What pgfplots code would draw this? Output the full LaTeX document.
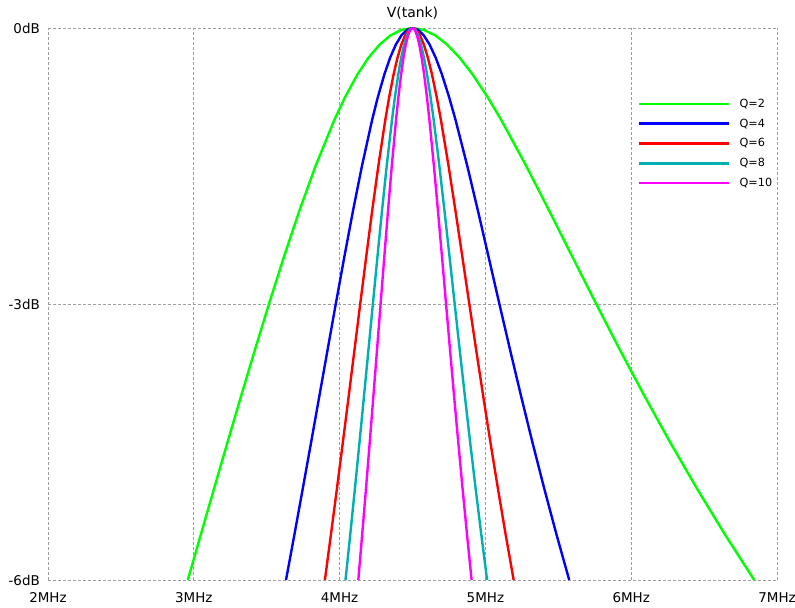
\documentclass[border=0pt]{standalone}
\usepackage{pgfplots}
\pgfplotsset{compat=1.18}
\usepackage{fontspec}
\setmainfont{DejaVu Sans}
\definecolor{qtwo}{RGB}{0,255,0}
\definecolor{qfour}{RGB}{0,0,255}
\definecolor{qsix}{RGB}{255,0,0}
\definecolor{qeight}{RGB}{0,176,176}
\definecolor{qten}{RGB}{255,0,255}
\begin{document}
\begin{tikzpicture}
\begin{axis}[
  scale only axis,
  width=729bp, height=552bp,
  xmin=2, xmax=7, ymin=-6, ymax=0,
  xtick={2,3,4,5,6,7},
  xticklabels={2MHz,3MHz,4MHz,5MHz,6MHz,7MHz},
  ytick={-6,-3,0},
  yticklabels={-6dB,-3dB,0dB},
  axis line style={draw=none},
  major tick length=0pt,
  grid=major,
  major grid style={color=black!38, dash pattern=on 3bp off 2bp, line width=0.8bp},
  tick label style={font=\fontsize{13.5}{16}\selectfont},
  /pgf/number format/assume math mode=true,
  xticklabel style={anchor=north, inner sep=0pt, yshift=-12bp},
  yticklabel style={anchor=east, inner sep=0pt, xshift=-8bp},
  title={V(tank)},
  title style={at={(0.5,1)}, anchor=base, inner sep=0pt, yshift=5bp, font=\fontsize{14}{16}\selectfont},
  every axis plot/.append style={line width=2.4bp},
  legend cell align=left,
  legend image code/.code={\draw[#1] (0bp,0bp) -- (90bp,0bp);},
  legend style={at={(0.8093,0.872)}, anchor=north west, draw=none, fill=none,
    inner sep=0pt, row sep=10bp, column sep=9bp,
    nodes={inner sep=0pt}, font=\fontsize{11.3}{13}\selectfont},
]
\addplot[color=qtwo] coordinates {
(2.9589,-6) (3.0493,-5.5) (3.1402,-5) (3.2318,-4.5) (3.3245,-4) (3.4189,-3.5)
(3.5155,-3) (3.6157,-2.5) (3.7211,-2) (3.8351,-1.5) (3.9638,-1) (4.0380,-0.75)
(4.1242,-0.5) (4.1997,-0.32) (4.2745,-0.18) (4.3492,-0.08) (4.4242,-0.02) (4.5,0)
(4.5771,-0.02) (4.6560,-0.08) (4.7374,-0.18) (4.8218,-0.32) (4.9101,-0.5) (5.0149,-0.75)
(5.1087,-1) (5.2802,-1.5) (5.4419,-2) (5.6006,-2.5) (5.7602,-3) (5.9231,-3.5)
(6.0911,-4) (6.2659,-4.5) (6.4487,-5) (6.6409,-5.5) (6.8437,-6)
};
\addlegendentry{Q=2}
\addplot[color=qfour] coordinates {
(3.6324,-6) (3.6908,-5.5) (3.7482,-5) (3.8050,-4.5) (3.8612,-4) (3.9173,-3.5)
(3.9737,-3) (4.0310,-2.5) (4.0903,-2) (4.1532,-1.5) (4.2229,-1) (4.2624,-0.75)
(4.3078,-0.5) (4.3471,-0.32) (4.3858,-0.18) (4.4240,-0.08) (4.4619,-0.02) (4.5,0)
(4.5384,-0.02) (4.5774,-0.08) (4.6172,-0.18) (4.6582,-0.32) (4.7008,-0.5) (4.7508,-0.75)
(4.7953,-1) (4.8758,-1.5) (4.9507,-2) (5.0235,-2.5) (5.0960,-3) (5.1694,-3.5)
(5.2445,-4) (5.3220,-4.5) (5.4025,-5) (5.4866,-5.5) (5.5748,-6)
};
\addlegendentry{Q=4}
\addplot[color=qsix] coordinates {
(3.8990,-6) (3.9410,-5.5) (3.9822,-5) (4.0226,-4.5) (4.0625,-4) (4.1019,-3.5)
(4.1414,-3) (4.1813,-2.5) (4.2223,-2) (4.2656,-1.5) (4.3132,-1) (4.3401,-0.75)
(4.3709,-0.5) (4.3975,-0.32) (4.4235,-0.18) (4.4492,-0.08) (4.4746,-0.02) (4.5,0)
(4.5256,-0.02) (4.5514,-0.08) (4.5778,-0.18) (4.6049,-0.32) (4.6329,-0.5) (4.6658,-0.75)
(4.6949,-1) (4.7473,-1.5) (4.7959,-2) (4.8430,-2.5) (4.8896,-3) (4.9367,-3.5)
(4.9847,-4) (5.0340,-4.5) (5.0851,-5) (5.1382,-5.5) (5.1938,-6)
};
\addlegendentry{Q=6}
\addplot[color=qeight] coordinates {
(4.0405,-6) (4.0734,-5.5) (4.1054,-5) (4.1367,-4.5) (4.1674,-4) (4.1978,-3.5)
(4.2282,-3) (4.2587,-2.5) (4.2900,-2) (4.3230,-1.5) (4.3592,-1) (4.3795,-0.75)
(4.4028,-0.5) (4.4229,-0.32) (4.4425,-0.18) (4.4618,-0.08) (4.4809,-0.02) (4.5,0)
(4.5191,-0.02) (4.5385,-0.08) (4.5582,-0.18) (4.5784,-0.32) (4.5993,-0.5) (4.6238,-0.75)
(4.6454,-1) (4.6843,-1.5) (4.7202,-2) (4.7550,-2.5) (4.7893,-3) (4.8239,-3.5)
(4.8591,-4) (4.8952,-4.5) (4.9325,-5) (4.9713,-5.5) (5.0117,-6)
};
\addlegendentry{Q=8}
\addplot[color=qten] coordinates {
(4.1283,-6) (4.1551,-5.5) (4.1813,-5) (4.2068,-4.5) (4.2318,-4) (4.2565,-3.5)
(4.2811,-3) (4.3059,-2.5) (4.3312,-2) (4.3578,-1.5) (4.3870,-1) (4.4034,-0.75)
(4.4221,-0.5) (4.4382,-0.32) (4.4540,-0.18) (4.4694,-0.08) (4.4847,-0.02) (4.5,0)
(4.5153,-0.02) (4.5308,-0.08) (4.5465,-0.18) (4.5626,-0.32) (4.5793,-0.5) (4.5988,-0.75)
(4.6160,-1) (4.6468,-1.5) (4.6754,-2) (4.7029,-2.5) (4.7301,-3) (4.7574,-3.5)
(4.7852,-4) (4.8136,-4.5) (4.8430,-5) (4.8735,-5.5) (4.9052,-6)
};
\addlegendentry{Q=10}
\end{axis}
\pgfresetboundingbox
\path ([shift={(-48bp,-27bp)}]current axis.south west) rectangle ([shift={(18bp,28bp)}]current axis.north east);
\end{tikzpicture}
\end{document}
